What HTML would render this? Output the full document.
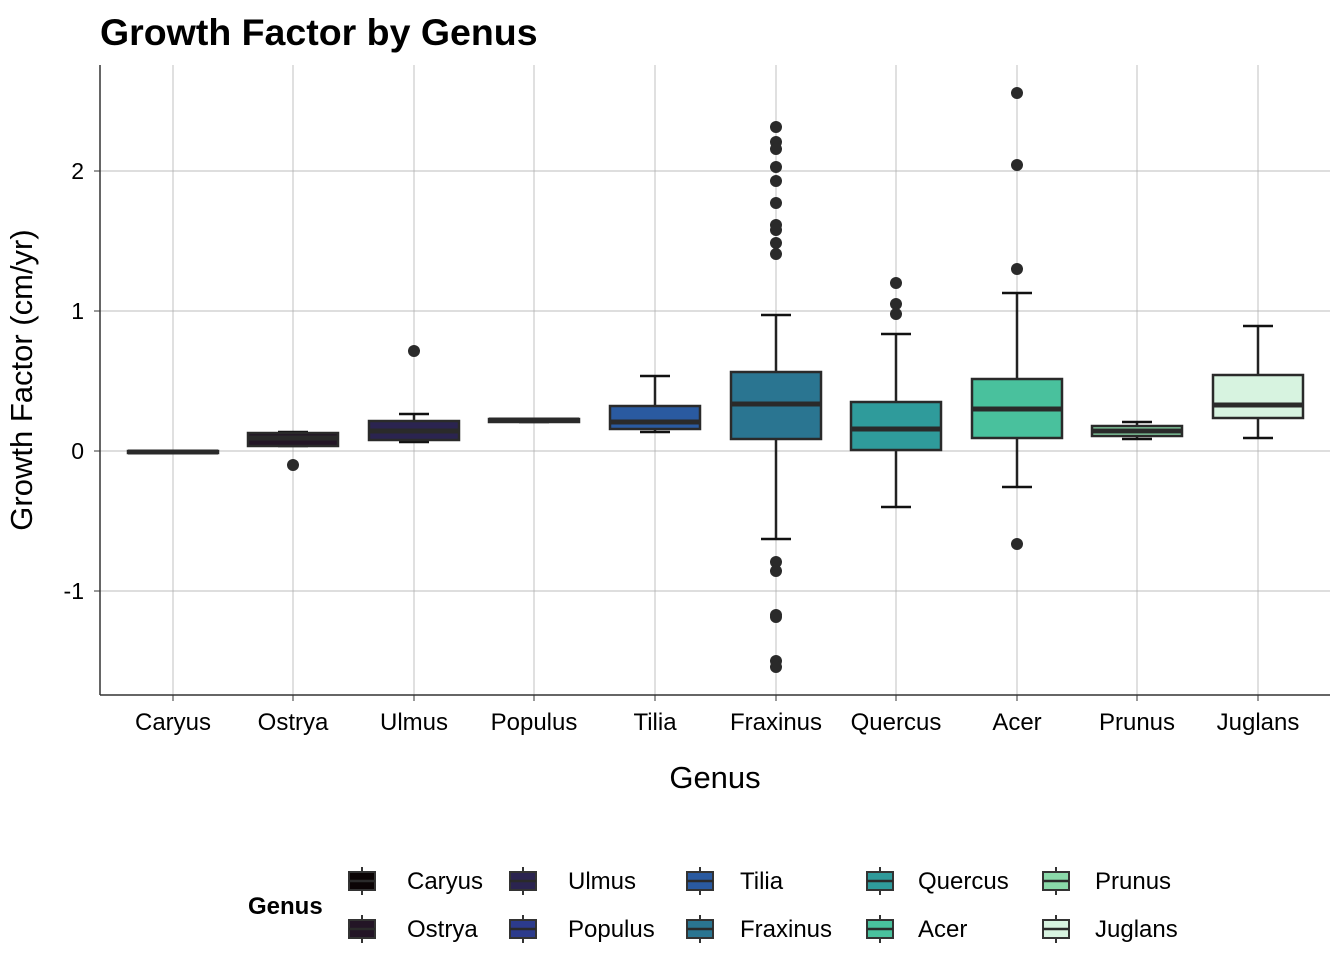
<!DOCTYPE html>
<html><head><meta charset="utf-8"><style>
body{margin:0;background:#fff;}
svg text{font-family:"Liberation Sans",Arial,sans-serif;}
</style></head><body>
<svg id="s" width="1344" height="960" xmlns="http://www.w3.org/2000/svg"></svg>
<script>
const s=document.getElementById('s');let h='';
h+='<text x="100" y="45" font-size="37.5" font-weight="bold" fill="#000">Growth Factor by Genus</text>';
const xs=[173,293,414,534,655,776,896,1017,1137,1258];
[171,311,451,591].forEach(y=>h+=`<line x1="100" x2="1330" y1="${y}" y2="${y}" stroke="#a8a8a8" stroke-width="0.7"/>`);
xs.forEach(x=>h+=`<line x1="${x}" x2="${x}" y1="65" y2="695" stroke="#a8a8a8" stroke-width="0.7"/>`);
h+='<line x1="100" x2="100" y1="65" y2="695" stroke="#333" stroke-width="1.5"/><line x1="100" x2="1330" y1="695" y2="695" stroke="#333" stroke-width="1.5"/>';
[[171,'2'],[311,'1'],[451,'0'],[591,'-1']].forEach(([y,t])=>{h+=`<text x="84" y="${y+8}" font-size="23" text-anchor="end">${t}</text><line x1="94" x2="100" y1="${y}" y2="${y}" stroke="#333"/>`});
const names=['Caryus','Ostrya','Ulmus','Populus','Tilia','Fraxinus','Quercus','Acer','Prunus','Juglans'];
const cols=['#0b0405','#231526','#2b2450','#2c3b8c','#2a5aa0','#2a7591','#2f9b9b','#49c19d','#8ad9a9','#d7f3e0'];
xs.forEach((x,i)=>{h+=`<line x1="${x}" x2="${x}" y1="695" y2="701" stroke="#333"/><text x="${x}" y="730" font-size="24" text-anchor="middle">${names[i]}</text>`});
h+='<text x="715" y="788" font-size="31" text-anchor="middle">Genus</text>';
h+='<text transform="translate(32,380) rotate(-90)" font-size="31" text-anchor="middle">Growth Factor (cm/yr)</text>';
const d=[[452,453,452,451,452,[]],
[446,446,438,433,432,[465]],
[442,440,431,421,414,[351]],
[422,422,420,419,419,[]],
[432,429,422,406,376,[]],
[539,439,404,372,315,[127,142,149,167,181,203,225,230,243,254,562,571,615,617,661,667]],
[507,450,429,402,334,[283,304,314]],
[487,438,409,379,293,[93,165,269,544]],
[439,436,431,426,422,[]],
[438,418,405,375,326,[]]];
d.forEach((b,i)=>{const x=xs[i];const [lo,q1,m,q3,hi,o]=b;
 h+=`<line x1="${x}" x2="${x}" y1="${hi}" y2="${lo}" stroke="#222" stroke-width="2.5"/>`;
 h+=`<line x1="${x-15}" x2="${x+15}" y1="${hi}" y2="${hi}" stroke="#111" stroke-width="2.5"/><line x1="${x-15}" x2="${x+15}" y1="${lo}" y2="${lo}" stroke="#111" stroke-width="2.5"/>`;
 h+=`<rect x="${x-45}" y="${q3}" width="90" height="${Math.max(q1-q3,1)}" fill="${cols[i]}" stroke="#2a2a2a" stroke-width="2.5"/>`;
 h+=`<line x1="${x-45}" x2="${x+45}" y1="${m}" y2="${m}" stroke="#2a2a2a" stroke-width="5"/>`;
 o.forEach(y=>h+=`<circle cx="${x}" cy="${y}" r="6" fill="#2a2a2a"/>`);
});
h+='<text x="248" y="914" font-size="24" font-weight="bold">Genus</text>';
const kx=[362,523,700,880,1056],lx=[407,568,740,918,1095];
for(let c=0;c<5;c++)for(let r=0;r<2;r++){const i=c*2+r;const y=r?929:881;const x=kx[c];
 h+=`<line x1="${x}" x2="${x}" y1="${y-14}" y2="${y+14}" stroke="#333" stroke-width="2"/>`;
 h+=`<rect x="${x-13}" y="${y-9}" width="26" height="18" fill="${cols[i]}" stroke="#333" stroke-width="2"/>`;
 h+=`<line x1="${x-13}" x2="${x+13}" y1="${y}" y2="${y}" stroke="#2a2a2a" stroke-width="2.5"/>`;
 h+=`<text x="${lx[c]}" y="${y+8}" font-size="24">${names[i]}</text>`;}
s.innerHTML=h;
</script>
</body></html>
